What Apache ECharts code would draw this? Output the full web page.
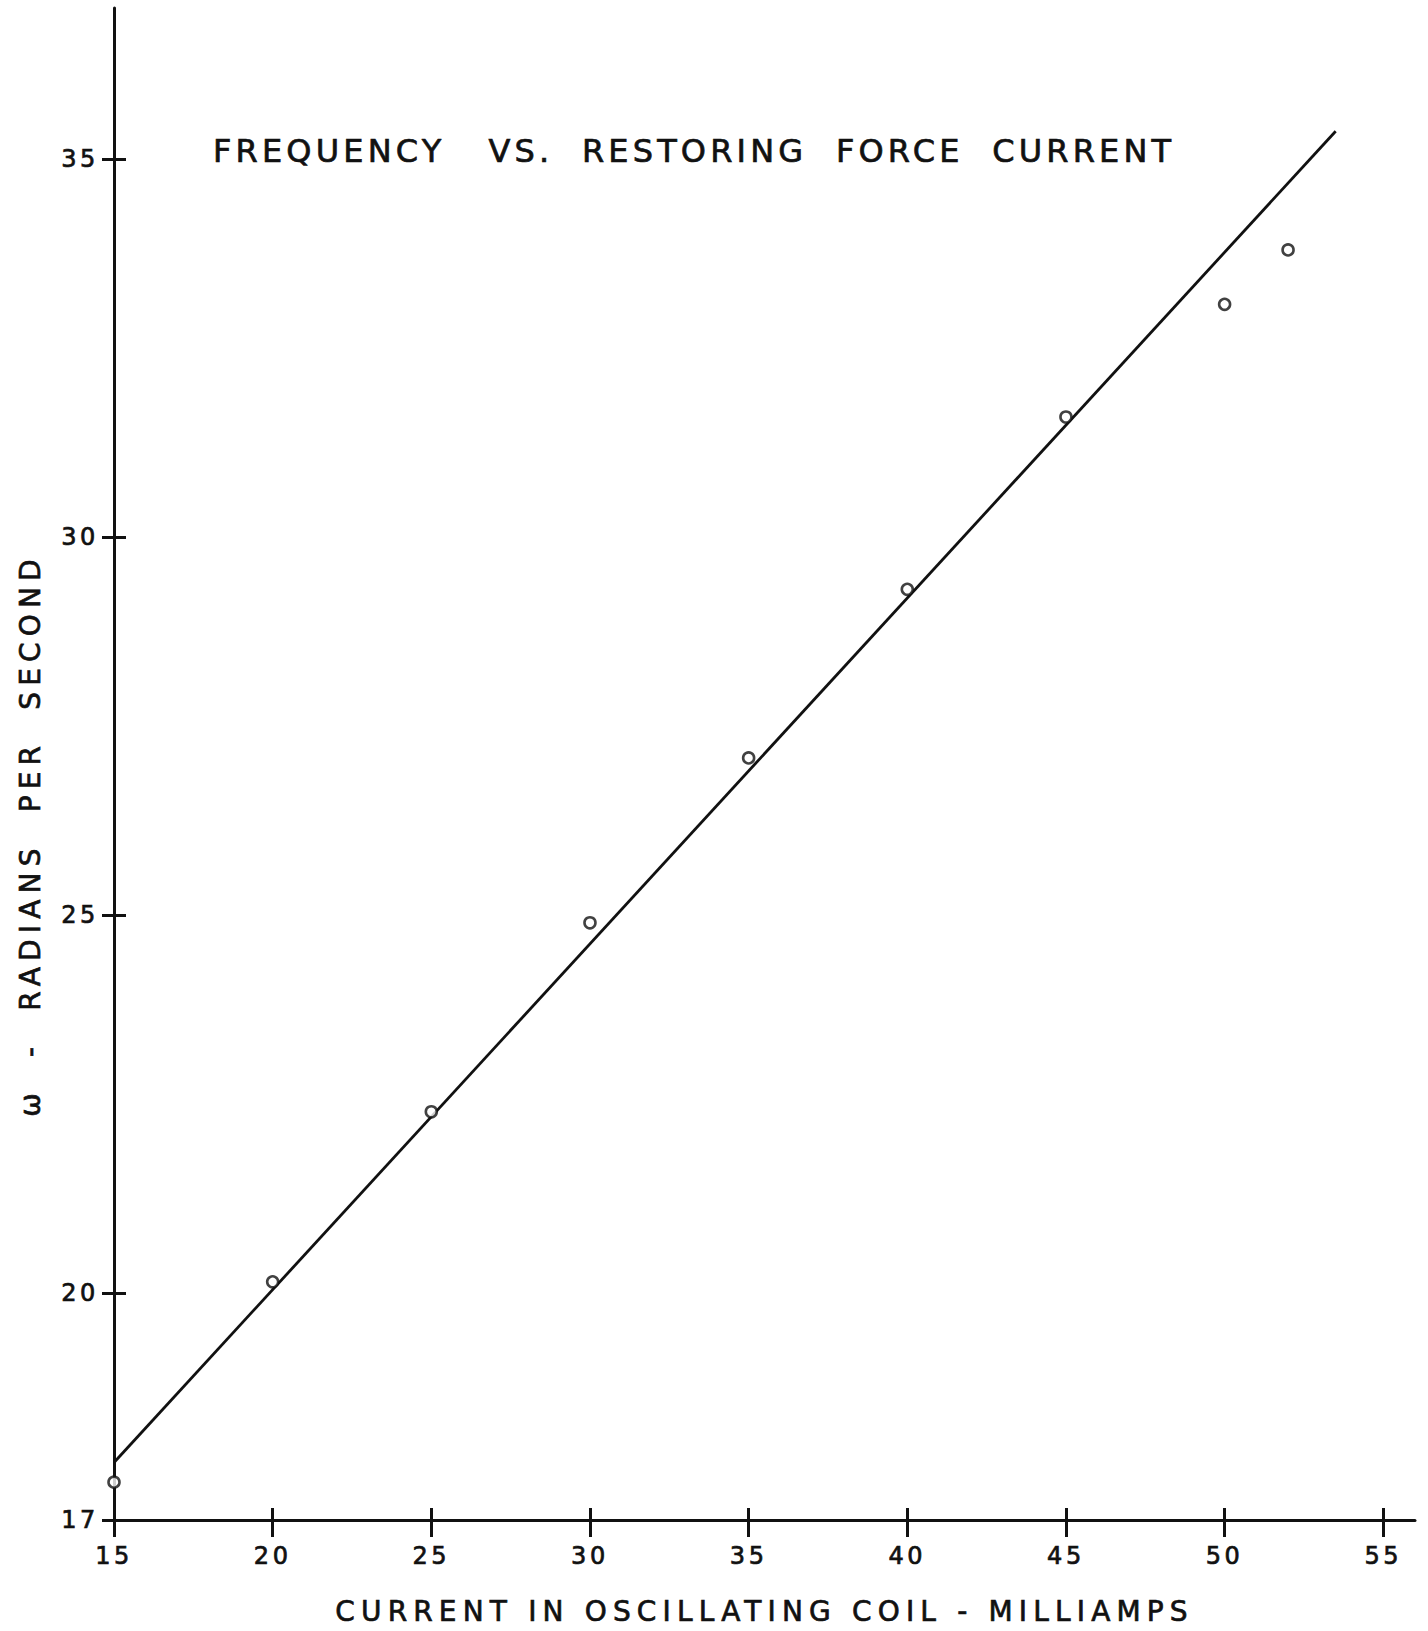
<!DOCTYPE html>
<html>
<head>
<meta charset="utf-8">
<title>Frequency vs. Restoring Force Current</title>
<script src="https://cdn.jsdelivr.net/npm/echarts@6/dist/echarts.min.js"></script>
<style>
  html, body { margin: 0; padding: 0; background: #fff; }
  #chart { width: 1428px; height: 1631px; }
  #chart svg text { white-space: pre; }
</style>
</head>
<body>
<div id="chart"></div>
<script>
// Measured points: coil current (mA) vs. angular frequency (rad/s)
const currentMA = [15, 20, 25, 30, 35, 40, 45, 50, 52];
const omega = [17.5, 20.15, 22.4, 24.9, 27.08, 29.31, 31.59, 33.08, 33.8];

// Straight-line fit drawn through the points (end points)
const fitCurrent = [15, 53.5];
const fitOmega = [17.76, 35.37];

// Axis tick positions
const xTicks = [15, 20, 25, 30, 35, 40, 45, 50, 55];
const yTicks = [17, 20, 25, 30, 35];

const titleText = 'FREQUENCY   VS.  RESTORING  FORCE  CURRENT';
const xName = 'CURRENT IN OSCILLATING COIL - MILLIAMPS';
const yName = 'ω  -  RADIANS  PER  SECOND';

const FONT = 'DejaVu Sans';
const INK = '#111';

// Lettering-guide look: spread the letters out, by font size group
const TITLE_SIZE = 32, NAME_SIZE = 28, TICK_SIZE = 24;
function spreadLetters() {
  document.querySelectorAll('#chart svg text').forEach(t => {
    const fs = parseFloat(getComputedStyle(t).fontSize);
    let em = 0.15;
    if (fs >= TITLE_SIZE - 0.5) em = 0.13;
    else if (fs >= NAME_SIZE - 0.5) em = 0.22;
    t.style.letterSpacing = em + 'em';
  });
}

// Slight outline so the letters read as pen strokes
const pen = { color: INK, fontFamily: FONT, textBorderColor: INK, textBorderWidth: 0.7 };

const measured = currentMA.map((c, i) => [c, omega[i]]);
const fitLine = fitCurrent.map((c, i) => [c, fitOmega[i]]);

const chart = echarts.init(document.getElementById('chart'), null, { renderer: 'svg' });
chart.on('finished', spreadLetters);

const xBase = {
  type: 'value', min: 15, max: 56, position: 'bottom', offset: 0,
  splitLine: { show: false }
};
const yBase = {
  type: 'value', min: 17, max: 37, position: 'left', offset: 0,
  splitLine: { show: false }
};

chart.setOption({
  animation: false,
  backgroundColor: '#fff',
  title: {
    text: titleText,
    left: 208, top: 130,
    textStyle: Object.assign({ fontSize: TITLE_SIZE, fontWeight: 'normal' }, pen)
  },
  grid: { left: 114, top: 8, right: 13, bottom: 111, containLabel: false },
  xAxis: [
    Object.assign({}, xBase, {
      name: xName,
      nameLocation: 'middle',
      nameGap: 77,
      nameTextStyle: Object.assign({ fontSize: NAME_SIZE }, pen),
      axisLine: { show: true, lineStyle: { color: INK, width: 3 } },
      axisTick: { show: true, inside: false, length: 17, customValues: xTicks, lineStyle: { color: INK, width: 3 } },
      axisLabel: Object.assign({ show: true, customValues: xTicks, margin: 24, fontSize: TICK_SIZE }, pen)
    }),
    Object.assign({}, xBase, {
      axisLine: { show: false },
      axisTick: { show: true, inside: true, length: 12, customValues: xTicks, lineStyle: { color: INK, width: 3 } },
      axisLabel: { show: false }
    })
  ],
  yAxis: [
    Object.assign({}, yBase, {
      name: yName,
      nameLocation: 'middle',
      nameGap: 70,
      nameRotate: 90,
      nameTextStyle: Object.assign({ fontSize: NAME_SIZE, padding: [0, 142, 0, 0] }, pen),
      axisLine: { show: true, lineStyle: { color: INK, width: 3 } },
      axisTick: { show: true, inside: false, length: 12, customValues: yTicks, lineStyle: { color: INK, width: 3 } },
      axisLabel: Object.assign({ show: true, customValues: yTicks, margin: 15, fontSize: TICK_SIZE }, pen)
    }),
    Object.assign({}, yBase, {
      axisLine: { show: false },
      axisTick: { show: true, inside: true, length: 12, customValues: yTicks, lineStyle: { color: INK, width: 3 } },
      axisLabel: { show: false }
    })
  ],
  series: [
    {
      type: 'line',
      xAxisIndex: 0, yAxisIndex: 0,
      data: fitLine,
      showSymbol: false,
      lineStyle: { color: INK, width: 2.8 },
      z: 2
    },
    {
      type: 'scatter',
      xAxisIndex: 0, yAxisIndex: 0,
      data: measured,
      symbol: 'circle',
      symbolSize: 11,
      itemStyle: { color: '#fff', borderColor: INK, borderWidth: 2.6 },
      z: 3
    }
  ]
});
spreadLetters();
</script>
</body>
</html>
